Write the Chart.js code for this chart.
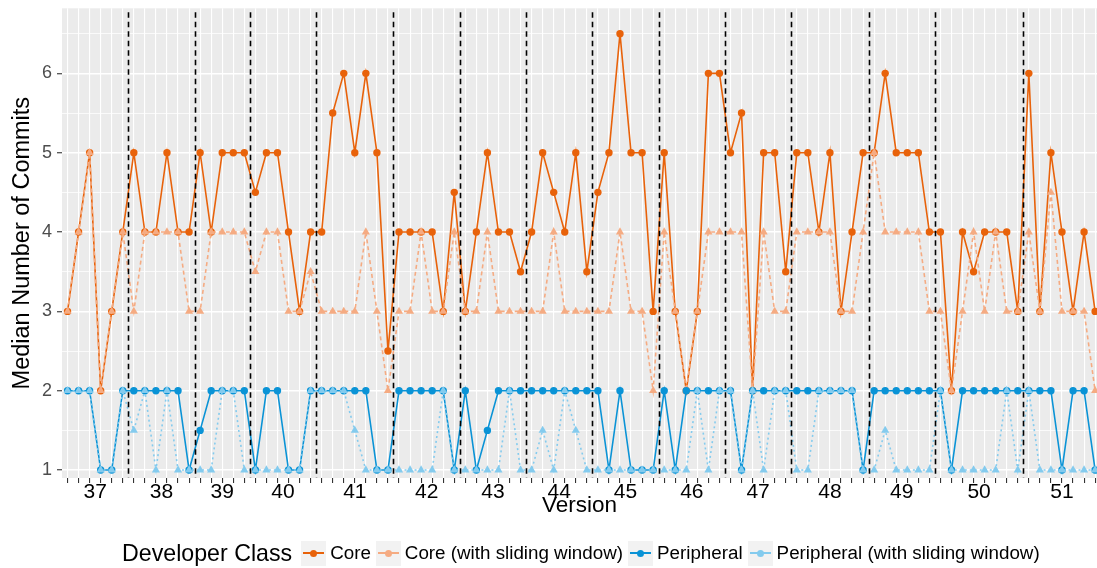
<!DOCTYPE html>
<html>
<head>
<meta charset="utf-8">
<script src="https://cdn.jsdelivr.net/npm/chart.js@4"></script>
<style>
  html, body { margin: 0; padding: 0; background: #fff; width: 1097px; height: 568px; overflow: hidden;
    font-family: "Liberation Sans", Arial, sans-serif; }
  #wrap { position: relative; width: 1097px; height: 568px; }
  #chart { position: absolute; left: 0; top: 0; }
  #legend { position: absolute; left: 122px; top: 540px; height: 26px; display: flex; align-items: center;
    white-space: nowrap; color: #000; }
  .ltitle { font-size: 23.2px; margin-right: 9px; }
  .key { width: 25px; height: 25px; background: #f2f2f2; position: relative; margin-right: 4px; }
  .key .ln { position: absolute; left: 2px; right: 2px; top: 11.75px; height: 1.5px; }
  .key .pt { position: absolute; left: 9px; top: 9px; width: 7px; height: 7px; border-radius: 50%; }
  .lab { font-size: 18.8px; margin-right: 5px; }
</style>
</head>
<body>
<div id="wrap">
  <canvas id="chart" width="1097" height="568"></canvas>
  <div id="legend"></div>
</div>
<script>
// Release versions and how many observation points fall in each one
const versionNames = ['37', '38', '39', '40', '41', '42', '43', '44', '45', '46', '47', '48', '49', '50', '51'];
const versionSizes = [6, 6, 5, 6, 7, 6, 6, 6, 6, 6, 6, 7, 6, 8, 7];

const seriesNames = ['Core', 'Core (with sliding window)', 'Peripheral', 'Peripheral (with sliding window)'];

// Median number of commits per developer class
const core = [
  3, 4, 5, 2, 3, 4,
  5, 4, 4, 5, 4, 4,
  5, 4, 5, 5, 5,
  4.5, 5, 5, 4, 3, 4,
  4, 5.5, 6, 5, 6, 5, 2.5,
  4, 4, 4, 4, 3, 4.5,
  3, 4, 5, 4, 4, 3.5,
  4, 5, 4.5, 4, 5, 3.5,
  4.5, 5, 6.5, 5, 5, 3,
  5, 3, 2, 3, 6, 6,
  5, 5.5, 2, 5, 5, 3.5,
  5, 5, 4, 5, 3, 4, 5,
  5, 6, 5, 5, 5, 4,
  4, 2, 4, 3.5, 4, 4, 4, 3,
  6, 3, 5, 4, 3, 4, 3
];
const coreSliding = [
  3, 4, 5, 2, 3, 4,
  3, 4, 4, 4, 4, 3,
  3, 4, 4, 4, 4,
  3.5, 4, 4, 3, 3, 3.5,
  3, 3, 3, 3, 4, 3, 2,
  3, 3, 4, 3, 3, 4,
  3, 3, 4, 3, 3, 3,
  3, 3, 4, 3, 3, 3,
  3, 3, 4, 3, 3, 2,
  4, 3, 2, 3, 4, 4,
  4, 4, 2, 4, 3, 3,
  4, 4, 4, 4, 3, 3, 4,
  5, 4, 4, 4, 4, 3,
  3, 2, 3, 4, 3, 4, 3, 3,
  4, 3, 4.5, 3, 3, 3, 2
];
const peripheral = [
  2, 2, 2, 1, 1, 2,
  2, 2, 2, 2, 2, 1,
  1.5, 2, 2, 2, 2,
  1, 2, 2, 1, 1, 2,
  2, 2, 2, 2, 2, 1, 1,
  2, 2, 2, 2, 2, 1,
  2, 1, 1.5, 2, 2, 2,
  2, 2, 2, 2, 2, 2,
  2, 1, 2, 1, 1, 1,
  2, 1, 2, 2, 2, 2,
  2, 1, 2, 2, 2, 2,
  2, 2, 2, 2, 2, 2, 1,
  2, 2, 2, 2, 2, 2,
  2, 1, 2, 2, 2, 2, 2, 2,
  2, 2, 2, 1, 2, 2, 1
];
const peripheralSliding = [
  2, 2, 2, 1, 1, 2,
  1.5, 2, 1, 2, 1, 1,
  1, 1, 2, 2, 1,
  1, 1, 1, 1, 1, 2,
  2, 2, 2, 1.5, 1, 1, 1,
  1, 1, 1, 1, 2, 1,
  1, 1, 1, 1, 2, 1,
  1, 1.5, 1, 2, 1.5, 1,
  1, 1, 1, 1, 1, 1,
  1, 1, 1, 2, 1, 2,
  2, 1, 2, 1, 2, 2,
  1, 1, 2, 2, 2, 2, 1,
  1, 1.5, 1, 1, 1, 1,
  2, 1, 1, 1, 1, 1, 2, 1,
  2, 1, 1, 1, 1, 1, 1
];

const yTickValues = [1, 2, 3, 4, 5, 6];

// Version ranges: first index, centre (label position) and the boundary between versions
const versionStarts = [];
let total = 0;
versionSizes.forEach(n => { versionStarts.push(total); total += n; });
const nPoints = total;
const versionCenters = versionStarts.map((s, k) => s + (versionSizes[k] - 1) / 2);
const versionBreaks = versionStarts.slice(1).map(s => s - 0.5);

const styles = [
  { color: '#e8620a', dash: [], point: 'circle', r: 3.7, order: 4 },
  { color: '#f5ab82', dash: [4, 3], point: 'triangle', r: 4.7, order: 3 },
  { color: '#0a93d6', dash: [], point: 'circle', r: 3.7, order: 2 },
  { color: '#84cbee', dash: [2, 3], point: 'triangle', r: 4.7, order: 1 }
];
const seriesValues = [core, coreSliding, peripheral, peripheralSliding];

const datasets = seriesValues.map((vals, k) => ({
  label: seriesNames[k],
  data: vals.map((v, i) => ({ x: i, y: v })),
  borderColor: styles[k].color,
  backgroundColor: styles[k].color,
  borderWidth: 1.6,
  borderDash: styles[k].dash,
  pointStyle: styles[k].point,
  pointRadius: styles[k].r,
  pointBorderWidth: 0,
  pointBackgroundColor: styles[k].color,
  tension: 0,
  order: styles[k].order
}));

const isInt = v => Math.abs(v - Math.round(v)) < 1e-9;

const panelBackground = {
  id: 'panelBackground',
  beforeDraw(chart) {
    const { ctx, chartArea: a } = chart;
    ctx.save();
    ctx.fillStyle = '#ebebeb';
    ctx.fillRect(a.left, a.top, a.right - a.left, a.bottom - a.top);
    ctx.restore();
  }
};

const versionLines = {
  id: 'versionLines',
  afterDatasetsDraw(chart) {
    const { ctx, chartArea: a, scales } = chart;
    ctx.save();
    ctx.strokeStyle = '#000';
    ctx.lineWidth = 1.6;
    ctx.setLineDash([5.5, 4]);
    versionBreaks.forEach(b => {
      const x = Math.round(scales.x.getPixelForValue(b)) + 0.5;
      ctx.beginPath();
      ctx.moveTo(x, a.top + 4);
      ctx.lineTo(x, a.bottom);
      ctx.stroke();
    });
    ctx.restore();
  }
};

new Chart(document.getElementById('chart'), {
  type: 'line',
  data: { datasets },
  options: {
    responsive: false,
    animation: false,
    devicePixelRatio: 1,
    layout: { autoPadding: false, padding: { top: 8.3, right: 0, bottom: 0, left: 0 } },
    plugins: { legend: { display: false }, tooltip: { enabled: false } },
    scales: {
      x: {
        type: 'linear',
        min: -0.5,
        max: nPoints - 0.83,
        border: { display: false },
        afterBuildTicks(scale) {
          const vals = [];
          for (let i = 0; i < nPoints; i++) vals.push(i);
          versionCenters.forEach(c => { if (!isInt(c)) vals.push(c); });
          vals.sort((a, b) => a - b);
          scale.ticks = vals.map(v => ({ value: v }));
        },
        afterFit(scale) { scale.height = 90; },
        grid: {
          color: c => isInt(c.tick.value) ? '#ffffff' : 'rgba(0,0,0,0)',
          tickColor: c => isInt(c.tick.value) ? '#333333' : 'rgba(0,0,0,0)',
          lineWidth: 1.1,
          tickLength: 5,
          tickWidth: 1.1
        },
        ticks: {
          autoSkip: false,
          maxRotation: 0,
          minRotation: 0,
          padding: -1.5,
          color: '#000',
          font: { family: 'Liberation Sans', size: 21, lineHeight: 1 },
          callback: v => {
            const k = versionCenters.findIndex(c => Math.abs(c - v) < 1e-9);
            return k >= 0 ? versionNames[k] : '';
          }
        },
        title: {
          display: true,
          text: 'Version',
          color: '#000',
          font: { family: 'Liberation Sans', size: 22.5, lineHeight: 1 },
          padding: { top: 0, bottom: 51 }
        }
      },
      y: {
        type: 'linear',
        min: 0.9,
        max: 6.82,
        border: { display: false },
        afterBuildTicks(scale) {
          const vals = [];
          yTickValues.forEach(v => { vals.push(v); vals.push(v + 0.5); });
          scale.ticks = vals.map(v => ({ value: v }));
        },
        afterFit(scale) { scale.width = 62; },
        grid: {
          color: '#ffffff',
          lineWidth: c => isInt(c.tick.value) ? 1.5 : 0.75,
          tickColor: c => isInt(c.tick.value) ? '#333333' : 'rgba(0,0,0,0)',
          tickLength: 5,
          tickWidth: 1.1
        },
        ticks: {
          padding: 5,
          color: '#4d4d4d',
          font: { family: 'Liberation Sans', size: 18, lineHeight: 0.35 },
          callback: v => isInt(v) ? String(v) : ''
        },
        title: {
          display: true,
          text: 'Median Number of Commits',
          color: '#000',
          font: { family: 'Liberation Sans', size: 23.5, lineHeight: 1 },
          padding: { top: 10.5, bottom: 0 }
        }
      }
    }
  },
  plugins: [panelBackground, versionLines]
});

// Legend: title followed by one grey key per series
const legendEl = document.getElementById('legend');
let html = '<span class="ltitle">Developer Class</span>';
seriesNames.forEach((name, k) => {
  html += '<span class="key"><span class="ln" style="background:' + styles[k].color + '"></span>' +
          '<span class="pt" style="background:' + styles[k].color + '"></span></span>' +
          '<span class="lab">' + name + '</span>';
});
legendEl.innerHTML = html;
</script>
</body>
</html>
